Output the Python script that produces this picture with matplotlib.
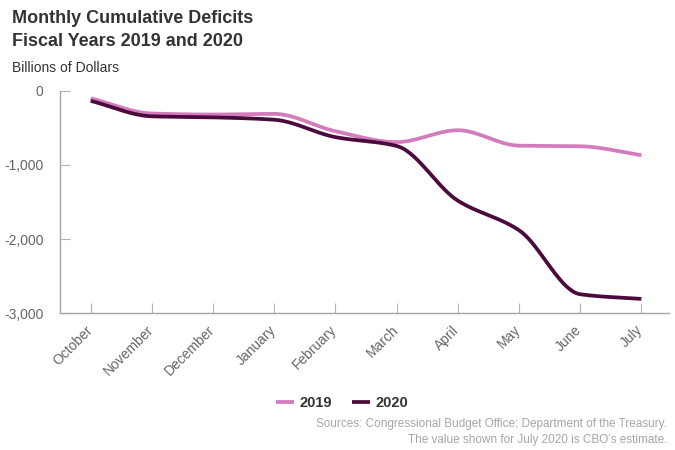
import numpy as np
import matplotlib
matplotlib.use("Agg")
from matplotlib import pyplot as plt
from matplotlib.transforms import ScaledTranslation

months = ["October", "November", "December", "January", "February",
          "March", "April", "May", "June", "July"]
deficit_2019 = [-100, -305, -319, -310, -544, -691, -531, -739, -747, -867]
deficit_2020 = [-134, -343, -357, -389, -624, -743, -1481, -1880, -2744, -2807]

color_2019 = "#d47bbd"
color_2020 = "#4b0a3c"


def monotone(x, y, n=40):
    # monotone cubic (Fritsch-Carlson) so the line looks like the original smooth curve
    x = np.asarray(x, float)
    y = np.asarray(y, float)
    h = np.diff(x)
    d = np.diff(y) / h
    m = np.zeros_like(y)
    m[0] = d[0]
    m[-1] = d[-1]
    for i in range(1, len(y) - 1):
        if d[i - 1] * d[i] <= 0:
            m[i] = 0
        else:
            m[i] = (h[i - 1] + h[i]) * 3 / ((2 * h[i] + h[i - 1]) / d[i - 1] + (h[i] + 2 * h[i - 1]) / d[i])
    xs, ys = [], []
    for i in range(len(x) - 1):
        t = np.linspace(0, 1, n)
        h00 = 2 * t**3 - 3 * t**2 + 1
        h10 = t**3 - 2 * t**2 + t
        h01 = -2 * t**3 + 3 * t**2
        h11 = t**3 - t**2
        xs.append(x[i] + t * h[i])
        ys.append(h00 * y[i] + h10 * h[i] * m[i] + h01 * y[i + 1] + h11 * h[i] * m[i + 1])
    return np.concatenate(xs), np.concatenate(ys)


plt.rcParams['font.family'] = ['Liberation Sans', 'DejaVu Sans']

fig = plt.figure(figsize=(6.75, 4.5), dpi=100)
ax = fig.add_axes([0.089, 0.304, 0.902, 0.494])

x = np.arange(len(months))
for vals, col, lab in [(deficit_2019, color_2019, "2019"), (deficit_2020, color_2020, "2020")]:
    sx, sy = monotone(x, vals)
    ax.plot(sx, sy, color=col, lw=2.7, label=lab, solid_capstyle='butt')

ax.set_xlim(-0.5, 9.45)
ax.set_ylim(-3000, 0)
ax.set_yticks([0, -1000, -2000, -3000])
ax.set_yticklabels(["0", "-1,000", "-2,000", "-3,000"])
ax.set_xticks(x)
ax.set_xticklabels(months, rotation=45, ha='right', rotation_mode='anchor')

for s in ['top', 'right']:
    ax.spines[s].set_visible(False)
for s in ['left', 'bottom']:
    ax.spines[s].set_color("#a6a6a6")
    ax.spines[s].set_linewidth(1)
ax.tick_params(axis='both', direction='in', length=7, color="#b3b3b3",
               labelcolor="#666666", labelsize=10)
ax.tick_params(axis='y', pad=12)
ax.tick_params(axis='x', pad=7)
shift = ScaledTranslation(-4 / 72, 0, fig.dpi_scale_trans)
for lbl in ax.get_xticklabels():
    lbl.set_transform(lbl.get_transform() + shift)

fig.text(0.018, 0.978, "Monthly Cumulative Deficits\nFiscal Years 2019 and 2020",
         fontsize=13, fontweight='bold', color="#333333", va='top', linespacing=1.5)
fig.text(0.018, 0.85, "Billions of Dollars", fontsize=10, color="#333333", va='center')

leg = fig.legend(loc='center', bbox_to_anchor=(0.507, 0.104), ncol=2, frameon=False,
                 handlelength=1.2, columnspacing=1.4, handletextpad=0.4,
                 prop={'weight': 'bold', 'size': 10.5})
for t in leg.get_texts():
    t.set_color("#333333")

fig.text(0.988, 0.04, "Sources: Congressional Budget Office; Department of the Treasury.\n"
         "The value shown for July 2020 is CBO\u2019s estimate.",
         fontsize=8.5, color="#a6a6a6", ha='right', va='center', multialignment='right',
         linespacing=1.35)

fig.savefig("out.png", dpi=100)
